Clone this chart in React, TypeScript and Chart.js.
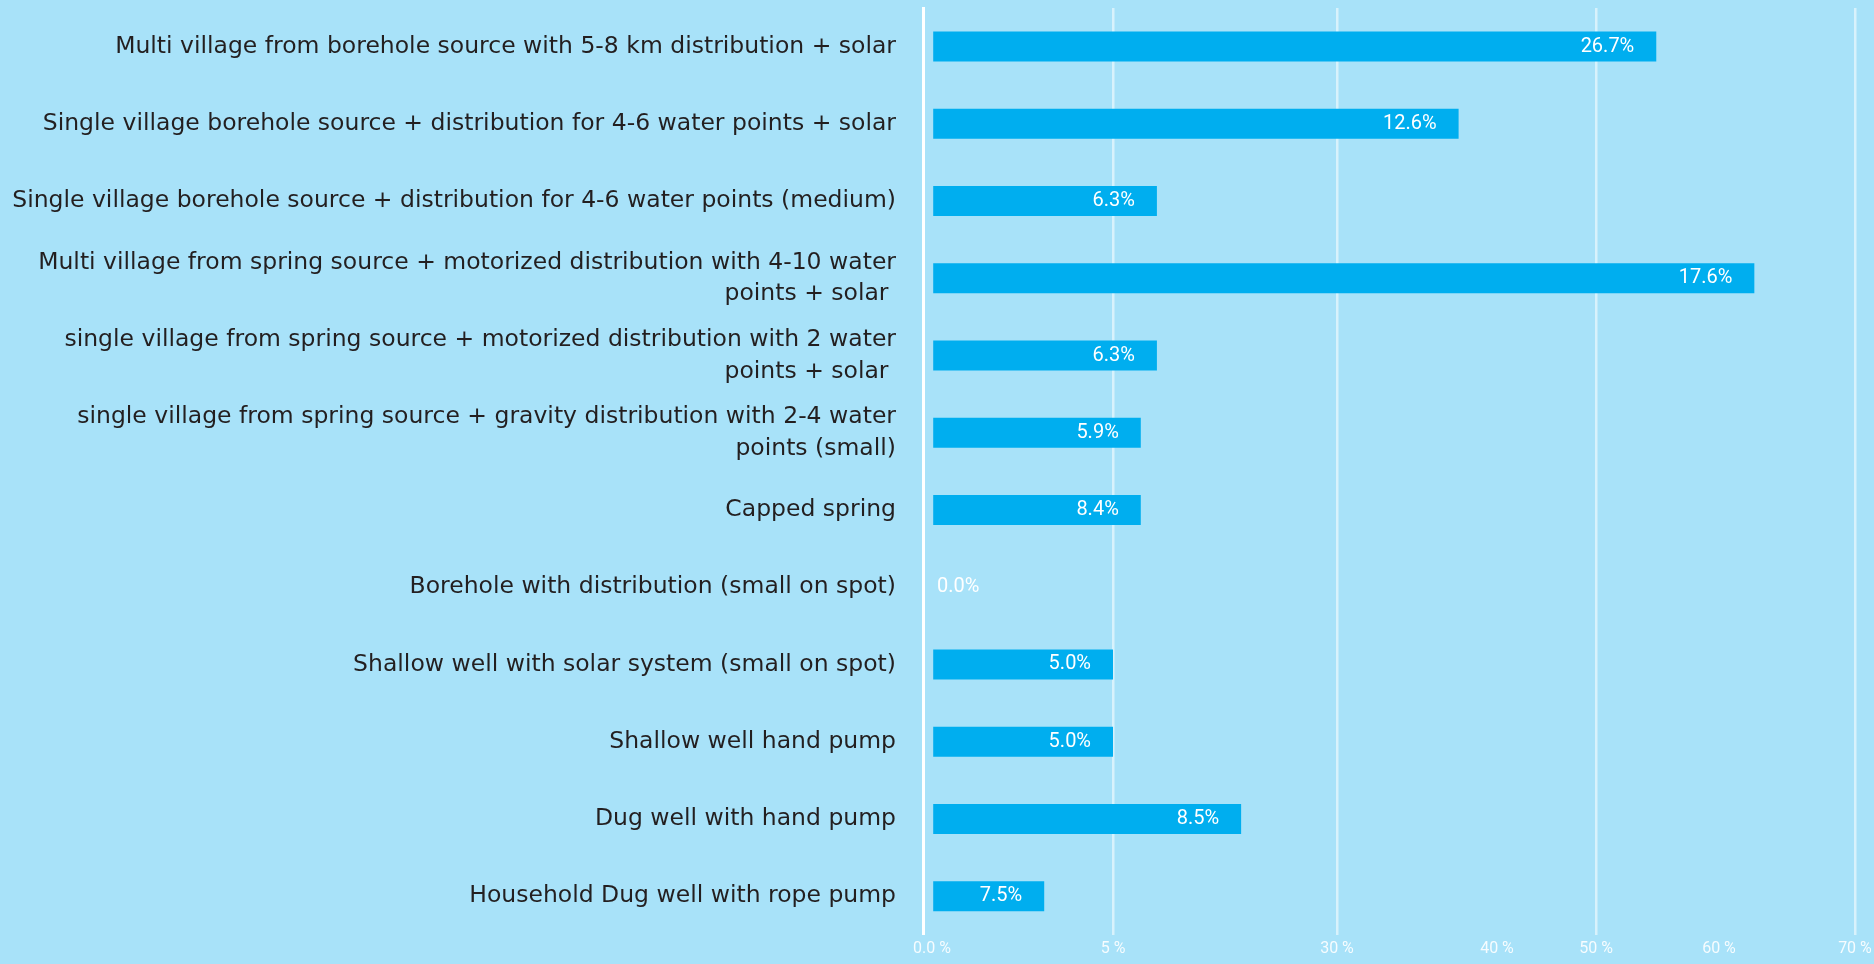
import React, { useEffect, useRef } from 'react';
import { Chart, registerables, LinearScale } from 'chart.js';

// ---------- data ----------
const categories: (string | string[])[] = [
  'Multi village from borehole source with 5-8 km distribution + solar',
  'Single village borehole source + distribution for 4-6 water points + solar',
  'Single village borehole source + distribution for 4-6 water points (medium)',
  ['Multi village from spring source + motorized distribution with 4-10 water', 'points + solar '],
  ['single village from spring source + motorized distribution with 2 water', 'points + solar '],
  ['single village from spring source + gravity distribution with 2-4 water', 'points (small)'],
  'Capped spring',
  'Borehole with distribution (small on spot)',
  'Shallow well with solar system (small on spot)',
  'Shallow well hand pump',
  'Dug well with hand pump',
  'Household Dug well with rope pump',
];

// bar lengths as read against the (non-uniform) axis of the picture
const barValues = [54.9, 37.6, 9.9, 62.6, 9.9, 8.1, 8.1, 0, 5.0, 5.0, 19.3, 3.1];
// value labels printed on the bars
const valueLabels = ['26.7%', '12.6%', '6.3%', '17.6%', '6.3%', '5.9%', '8.4%', '0.0%', '5.0%', '5.0%', '8.5%', '7.5%'];

const tickValues = [0, 5, 30, 40, 50, 60, 70];
const tickLabels = ['0.0 %', '5 %', '30 %', '40 %', '50 %', '60 %', '70 %'];
const gridTickValues = [5, 30, 50, 70];

// ---------- non-uniform axis (value -> fraction of axis length) ----------
const AXIS_BREAKS: [number, number][] = [
  [-1, 0],
  [0, 0.0095],
  [5, 0.2015],
  [30, 0.439],
  [40, 0.6087],
  [50, 0.7137],
  [60, 0.8441],
  [70, 0.9883],
  [71, 1],
];

function valueToDecimal(v: number): number {
  const b = AXIS_BREAKS;
  if (v <= b[0][0]) return b[0][1];
  for (let i = 1; i < b.length; i++) {
    if (v <= b[i][0]) {
      const [v0, d0] = b[i - 1];
      const [v1, d1] = b[i];
      return d0 + ((v - v0) / (v1 - v0)) * (d1 - d0);
    }
  }
  return b[b.length - 1][1];
}
function decimalToValue(d: number): number {
  const b = AXIS_BREAKS;
  if (d <= b[0][1]) return b[0][0];
  for (let i = 1; i < b.length; i++) {
    if (d <= b[i][1]) {
      const [v0, d0] = b[i - 1];
      const [v1, d1] = b[i];
      return v0 + ((d - d0) / (d1 - d0)) * (v1 - v0);
    }
  }
  return b[b.length - 1][0];
}

class PiecewiseScale extends (LinearScale as any) {
  static id = 'piecewise';
  static defaults = (LinearScale as any).defaults;
  getPixelForValue(value: number) {
    if (value === null || value === undefined || isNaN(value)) return NaN;
    return (this as any).getPixelForDecimal(valueToDecimal(value));
  }
  getValueForPixel(pixel: number) {
    return decimalToValue((this as any).getDecimalForPixel(pixel));
  }
}

Chart.register(...registerables, PiecewiseScale as any);

const BG = '#a8e2f9';
const BAR = '#00aeef';

const valueLabelPlugin = {
  id: 'valueLabels',
  afterDatasetsDraw(chart: any) {
    const ctx = chart.ctx;
    const meta = chart.getDatasetMeta(0);
    ctx.save();
    ctx.font = '20px Roboto';
    ctx.fillStyle = '#ffffff';
    ctx.textBaseline = 'middle';
    meta.data.forEach((el: any, i: number) => {
      const { x, y, base } = el.getProps(['x', 'y', 'base'], true);
      const text = valueLabels[i];
      const w = ctx.measureText(text).width;
      if (x - base < w + 30) {
        ctx.textAlign = 'left';
        ctx.fillText(text, base + 5, y);
      } else {
        ctx.textAlign = 'right';
        ctx.fillText(text, x - 22, y);
      }
    });
    ctx.restore();
  },
};

export default function App() {
  const canvasRef = useRef<HTMLCanvasElement | null>(null);

  useEffect(() => {
    if (!canvasRef.current) return;
    const chart = new Chart(canvasRef.current, {
      type: 'bar',
      data: {
        labels: categories,
        datasets: [
          {
            data: barValues,
            backgroundColor: BAR,
            borderWidth: 0,
            inflateAmount: 0,
            barThickness: 30,
          },
        ],
      },
      options: {
        indexAxis: 'y',
        animation: false,
        responsive: true,
        maintainAspectRatio: false,
        layout: { padding: { top: 8, right: 8, left: 0, bottom: 0 } },
        plugins: {
          legend: { display: false },
          tooltip: { enabled: false },
        },
        scales: {
          x: {
            type: 'piecewise' as any,
            min: -1,
            max: 71,
            position: 'bottom',
            afterBuildTicks: (scale: any) => {
              scale.ticks = tickValues.map((v) => ({ value: v }));
            },
            afterFit: (scale: any) => {
              scale.paddingLeft = 0;
              scale.paddingRight = 0;
            },
            grid: {
              drawTicks: false,
              lineWidth: 2.5,
              color: (c: any) =>
                c.tick && gridTickValues.includes(c.tick.value)
                  ? 'rgba(255,255,255,0.55)'
                  : 'rgba(0,0,0,0)',
            },
            border: { display: false },
            ticks: {
              autoSkip: false,
              maxRotation: 0,
              padding: 5,
              color: 'rgba(255,255,255,0.9)',
              font: { family: 'Roboto', size: 16 },
              callback: (v: any) => {
                const i = tickValues.indexOf(Number(v));
                return i >= 0 ? tickLabels[i] : '';
              },
            },
          },
          y: {
            type: 'category',
            afterFit: (scale: any) => {
              scale.width = 923;
              scale.paddingTop = 0;
              scale.paddingBottom = 0;
            },
            grid: { display: false, drawTicks: false },
            border: { display: true, color: '#ffffff', width: 3 },
            ticks: {
              padding: 27,
              color: '#231f20',
              font: { family: '"DejaVu Sans", sans-serif', size: 23.5, lineHeight: 1.35 },
            },
          },
        },
      },
      plugins: [valueLabelPlugin],
    } as any);
    return () => chart.destroy();
  }, []);

  return (
    <div
      style={{
        position: 'fixed',
        left: 0,
        top: 0,
        width: '1874px',
        height: '964px',
        background: BG,
      }}
    >
      <canvas ref={canvasRef} />
    </div>
  );
}
